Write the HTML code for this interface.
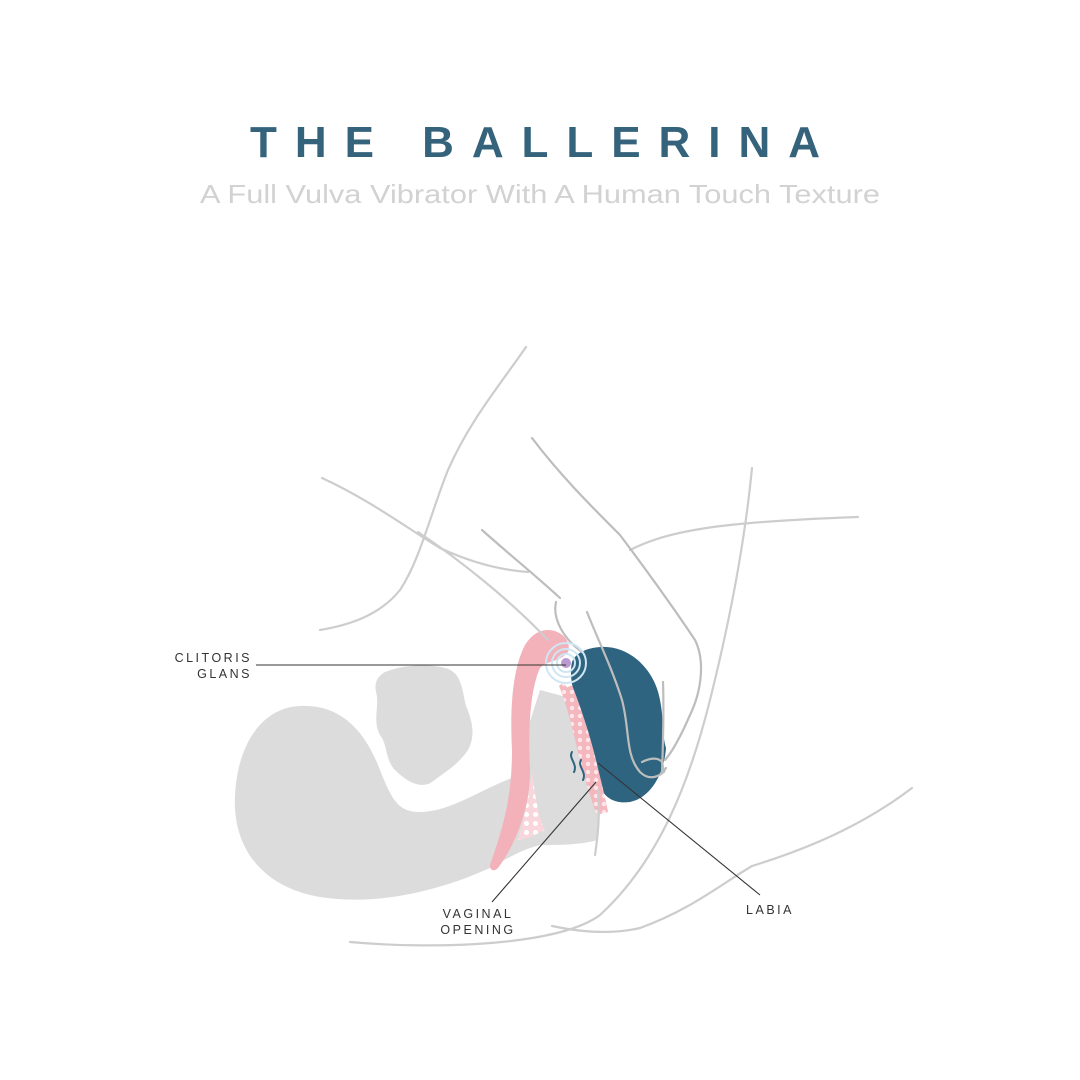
<!DOCTYPE html>
<html><head><meta charset="utf-8"><style>
html,body{margin:0;padding:0;background:#fff;}
svg{display:block;}
</style></head><body>
<svg width="1080" height="1080" viewBox="0 0 1080 1080" xmlns="http://www.w3.org/2000/svg">
<defs>
<pattern id="dots" width="8" height="8" patternUnits="userSpaceOnUse">
<rect width="8" height="8" fill="#f4b7be"/>
<circle cx="4" cy="4" r="2.2" fill="#fde6ea"/>
</pattern>
<pattern id="dots2" width="9" height="9" patternUnits="userSpaceOnUse">
<rect width="9" height="9" fill="#f8d6db"/>
<circle cx="4.5" cy="4.5" r="2.5" fill="#fff"/>
</pattern>
</defs>
<text x="250" y="157" textLength="570" lengthAdjust="spacing" font-family="Liberation Sans, sans-serif" font-weight="bold" font-size="44" fill="#36637c">THE BALLERINA</text>
<text x="200" y="203" textLength="680" lengthAdjust="spacingAndGlyphs" font-family="Liberation Sans, sans-serif" font-size="26" fill="#d2d2d2">A Full Vulva Vibrator With A Human Touch Texture</text>

<!-- grey body -->
<path d="M300,706 C340,704 365,730 380,770 C392,800 398,812 420,812 C450,812 480,790 512,778 L540,690 L570,698 L600,790 L598,840 C580,845 560,845 540,845 C520,850 505,860 490,868 C430,895 370,905 320,897 C265,888 232,850 235,795 C238,740 265,707 300,706 Z" fill="#dcdcdc"/>
<path d="M385,672 C405,664 430,664 445,668 C462,672 462,690 466,706 C472,720 476,735 468,750 C458,765 445,772 432,782 C420,790 405,780 395,770 C385,760 388,745 380,735 C372,720 380,705 376,692 C374,682 378,676 385,672 Z" fill="#dcdcdc"/>

<!-- pink strand -->
<path d="M548,630 C560,630 572,640 568,652 C560,662 548,660 540,668 C530,690 528,730 530,770 C530,810 515,845 498,868 C493,873 488,869 491,862 C506,820 512,790 512,750 C510,710 512,670 525,645 C532,634 540,630 548,630 Z" fill="#f3b1b9"/>
<path d="M532,770 C535,800 540,820 545,830 C535,835 525,840 518,840 C525,815 530,790 532,770 Z" fill="url(#dots2)"/>

<!-- blue device -->
<path d="M600,647 C630,645 655,670 660,700 C664,720 662,735 666,748 C664,775 650,798 630,802 C615,804 606,798 602,790 C595,770 590,745 582,720 C576,700 568,680 572,662 C576,652 588,648 600,647 Z" fill="#2f6480"/>
<!-- dotted pink strip -->
<path d="M564,682 C574,700 582,720 588,745 C594,770 598,790 603,812 L596,813 C588,790 582,770 577,748 C571,722 565,700 559,686 Z" fill="url(#dots)"/>
<path d="M572,685 C580,705 590,735 596,760 C602,785 606,800 608,812 L600,814 C594,790 588,765 582,740 C576,715 570,700 566,688 Z" fill="url(#dots)"/>

<!-- grey lines -->
<g fill="none" stroke="#cdcdcd" stroke-width="2.2" stroke-linecap="round">
<path d="M526,347 C500,385 470,420 448,470 C430,515 420,560 400,590 C380,615 350,625 320,630"/>
<path d="M322,478 C370,500 410,530 440,548 C470,562 500,570 528,572"/>
<path d="M418,532 C460,560 510,600 548,640"/>
<path d="M630,550 C670,530 720,522 858,517"/>
<path d="M752,468 C745,540 730,620 710,700 C690,780 660,860 600,915 C560,945 440,950 350,942"/>
<path d="M912,788 C870,820 820,845 752,866 C720,885 690,910 640,928 C610,935 580,932 552,926"/>
<path d="M598,790 C600,815 598,835 595,855"/>
</g>
<g fill="none" stroke="#bdbdbd" stroke-width="2.2" stroke-linecap="round">
<path d="M532,438 C560,475 590,505 620,535 C650,575 675,610 695,640 C705,660 702,690 690,715 C680,738 672,752 665,760"/>
<path d="M482,530 C510,555 535,575 560,598 M556,602 C552,620 565,640 582,652"/>
<path d="M587,612 C598,640 612,668 622,700 C630,730 625,755 640,772 C650,782 662,776 666,768"/>
<path d="M642,762 C650,758 658,757 662,762 L664,772"/>
<path d="M663,682 C664,710 663,745 662,773"/>
</g>

<!-- waves -->
<g fill="none" stroke="#2f6480" stroke-width="2" stroke-linecap="round">
<path d="M572,752 C568,758 578,764 574,772"/>
<path d="M581,760 C577,766 587,772 583,780"/>
</g>

<!-- vibration circles -->
<circle cx="566" cy="663" r="5" fill="#b89ad1"/>
<g fill="none" stroke="#cfe6f3" stroke-width="2">
<circle cx="566" cy="663" r="9"/>
<circle cx="566" cy="663" r="14"/>
<circle cx="566" cy="663" r="20"/>
</g>

<!-- leader lines -->
<g stroke="#333" stroke-width="1.1" fill="none">
<line x1="256" y1="665" x2="566" y2="665"/>
<line x1="492" y1="902" x2="596" y2="782"/>
<line x1="598" y1="763" x2="760" y2="895"/>
</g>
<g font-family="Liberation Sans, sans-serif" font-size="12.5" fill="#333" letter-spacing="2.5">
<text x="252" y="662" text-anchor="end">CLITORIS</text>
<text x="252" y="678" text-anchor="end">GLANS</text>
<text x="478" y="918" text-anchor="middle">VAGINAL</text>
<text x="478" y="934" text-anchor="middle">OPENING</text>
<text x="770" y="914" text-anchor="middle">LABIA</text>
</g>
</svg>
</body></html>
